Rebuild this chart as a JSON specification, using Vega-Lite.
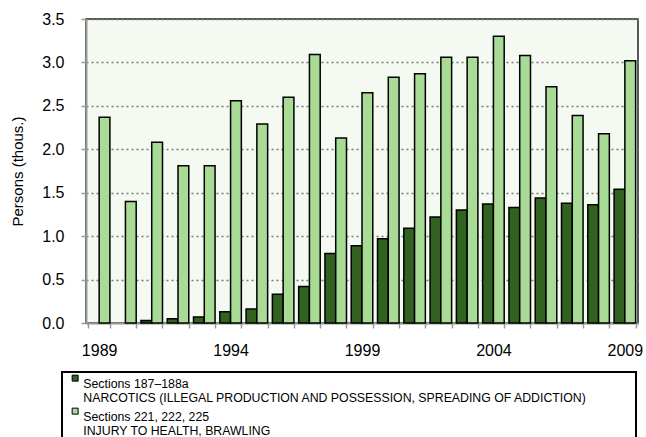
{
  "$schema": "https://vega.github.io/schema/vega-lite/v6.json",
  "width": 552,
  "height": 304,
  "autosize": {"type": "none"},
  "padding": {"left": 86, "top": 19, "right": 8, "bottom": 114},
  "background": "white",
  "data": {
    "values": [
      {"year": 1989, "series": "Sections 221, 222, 225|INJURY TO HEALTH, BRAWLING", "value": 2.37},
      {"year": 1990, "series": "Sections 221, 222, 225|INJURY TO HEALTH, BRAWLING", "value": 1.40},
      {"year": 1991, "series": "Sections 187–188a|NARCOTICS (ILLEGAL PRODUCTION AND POSSESSION, SPREADING OF ADDICTION)", "value": 0.03},
      {"year": 1991, "series": "Sections 221, 222, 225|INJURY TO HEALTH, BRAWLING", "value": 2.08},
      {"year": 1992, "series": "Sections 187–188a|NARCOTICS (ILLEGAL PRODUCTION AND POSSESSION, SPREADING OF ADDICTION)", "value": 0.05},
      {"year": 1992, "series": "Sections 221, 222, 225|INJURY TO HEALTH, BRAWLING", "value": 1.81},
      {"year": 1993, "series": "Sections 187–188a|NARCOTICS (ILLEGAL PRODUCTION AND POSSESSION, SPREADING OF ADDICTION)", "value": 0.07},
      {"year": 1993, "series": "Sections 221, 222, 225|INJURY TO HEALTH, BRAWLING", "value": 1.81},
      {"year": 1994, "series": "Sections 187–188a|NARCOTICS (ILLEGAL PRODUCTION AND POSSESSION, SPREADING OF ADDICTION)", "value": 0.13},
      {"year": 1994, "series": "Sections 221, 222, 225|INJURY TO HEALTH, BRAWLING", "value": 2.56},
      {"year": 1995, "series": "Sections 187–188a|NARCOTICS (ILLEGAL PRODUCTION AND POSSESSION, SPREADING OF ADDICTION)", "value": 0.16},
      {"year": 1995, "series": "Sections 221, 222, 225|INJURY TO HEALTH, BRAWLING", "value": 2.29},
      {"year": 1996, "series": "Sections 187–188a|NARCOTICS (ILLEGAL PRODUCTION AND POSSESSION, SPREADING OF ADDICTION)", "value": 0.33},
      {"year": 1996, "series": "Sections 221, 222, 225|INJURY TO HEALTH, BRAWLING", "value": 2.60},
      {"year": 1997, "series": "Sections 187–188a|NARCOTICS (ILLEGAL PRODUCTION AND POSSESSION, SPREADING OF ADDICTION)", "value": 0.42},
      {"year": 1997, "series": "Sections 221, 222, 225|INJURY TO HEALTH, BRAWLING", "value": 3.09},
      {"year": 1998, "series": "Sections 187–188a|NARCOTICS (ILLEGAL PRODUCTION AND POSSESSION, SPREADING OF ADDICTION)", "value": 0.80},
      {"year": 1998, "series": "Sections 221, 222, 225|INJURY TO HEALTH, BRAWLING", "value": 2.13},
      {"year": 1999, "series": "Sections 187–188a|NARCOTICS (ILLEGAL PRODUCTION AND POSSESSION, SPREADING OF ADDICTION)", "value": 0.89},
      {"year": 1999, "series": "Sections 221, 222, 225|INJURY TO HEALTH, BRAWLING", "value": 2.65},
      {"year": 2000, "series": "Sections 187–188a|NARCOTICS (ILLEGAL PRODUCTION AND POSSESSION, SPREADING OF ADDICTION)", "value": 0.97},
      {"year": 2000, "series": "Sections 221, 222, 225|INJURY TO HEALTH, BRAWLING", "value": 2.83},
      {"year": 2001, "series": "Sections 187–188a|NARCOTICS (ILLEGAL PRODUCTION AND POSSESSION, SPREADING OF ADDICTION)", "value": 1.09},
      {"year": 2001, "series": "Sections 221, 222, 225|INJURY TO HEALTH, BRAWLING", "value": 2.87},
      {"year": 2002, "series": "Sections 187–188a|NARCOTICS (ILLEGAL PRODUCTION AND POSSESSION, SPREADING OF ADDICTION)", "value": 1.22},
      {"year": 2002, "series": "Sections 221, 222, 225|INJURY TO HEALTH, BRAWLING", "value": 3.06},
      {"year": 2003, "series": "Sections 187–188a|NARCOTICS (ILLEGAL PRODUCTION AND POSSESSION, SPREADING OF ADDICTION)", "value": 1.30},
      {"year": 2003, "series": "Sections 221, 222, 225|INJURY TO HEALTH, BRAWLING", "value": 3.06},
      {"year": 2004, "series": "Sections 187–188a|NARCOTICS (ILLEGAL PRODUCTION AND POSSESSION, SPREADING OF ADDICTION)", "value": 1.37},
      {"year": 2004, "series": "Sections 221, 222, 225|INJURY TO HEALTH, BRAWLING", "value": 3.30},
      {"year": 2005, "series": "Sections 187–188a|NARCOTICS (ILLEGAL PRODUCTION AND POSSESSION, SPREADING OF ADDICTION)", "value": 1.33},
      {"year": 2005, "series": "Sections 221, 222, 225|INJURY TO HEALTH, BRAWLING", "value": 3.08},
      {"year": 2006, "series": "Sections 187–188a|NARCOTICS (ILLEGAL PRODUCTION AND POSSESSION, SPREADING OF ADDICTION)", "value": 1.44},
      {"year": 2006, "series": "Sections 221, 222, 225|INJURY TO HEALTH, BRAWLING", "value": 2.72},
      {"year": 2007, "series": "Sections 187–188a|NARCOTICS (ILLEGAL PRODUCTION AND POSSESSION, SPREADING OF ADDICTION)", "value": 1.38},
      {"year": 2007, "series": "Sections 221, 222, 225|INJURY TO HEALTH, BRAWLING", "value": 2.39},
      {"year": 2008, "series": "Sections 187–188a|NARCOTICS (ILLEGAL PRODUCTION AND POSSESSION, SPREADING OF ADDICTION)", "value": 1.36},
      {"year": 2008, "series": "Sections 221, 222, 225|INJURY TO HEALTH, BRAWLING", "value": 2.18},
      {"year": 2009, "series": "Sections 187–188a|NARCOTICS (ILLEGAL PRODUCTION AND POSSESSION, SPREADING OF ADDICTION)", "value": 1.54},
      {"year": 2009, "series": "Sections 221, 222, 225|INJURY TO HEALTH, BRAWLING", "value": 3.02}
    ]
  },
  "mark": {"type": "bar", "stroke": "black", "strokeWidth": 1.5},
  "encoding": {
    "x": {
      "field": "year",
      "type": "ordinal",
      "scale": {"paddingInner": 0.18, "paddingOuter": 0.09},
      "axis": {
        "title": null,
        "labelAngle": 0,
        "labelOverlap": false,
        "labelExpr": "(datum.value - 1989) % 5 === 0 ? datum.label : ''",
        "tickBand": "extent",
        "tickSize": 5,
        "labelPadding": 14,
        "grid": false
      }
    },
    "xOffset": {
      "field": "series",
      "type": "nominal",
      "scale": {"paddingInner": 0, "paddingOuter": 0}
    },
    "y": {
      "field": "value",
      "type": "quantitative",
      "scale": {"domain": [0, 3.5], "nice": false},
      "axis": {
        "title": "Persons (thous.)",
        "values": [0, 0.5, 1, 1.5, 2, 2.5, 3, 3.5],
        "format": ".1f",
        "tickSize": 5,
        "labelPadding": 17,
        "titlePadding": 16,
        "titleFontSize": 15,
        "titleFontWeight": "normal",
        "titleFont": "Liberation Sans",
        "titleColor": "black",
        "grid": true,
        "gridColor": "#7a7a7a",
        "gridDash": [2, 3],
        "gridWidth": 1.5
      }
    },
    "color": {
      "field": "series",
      "type": "nominal",
      "scale": {"range": ["#31621f", "#a8dc96"]},
      "legend": {
        "title": null,
        "orient": "none",
        "legendX": -24,
        "legendY": 353,
        "direction": "vertical",
        "labelExpr": "[split(datum.label, '|')[0], pad(split(datum.label, '|')[1], 83, '\u00a0') + '\u200b']",
        "labelFont": "Liberation Sans",
        "labelFontSize": 12.3,
        "labelColor": "black",
        "labelLimit": 800,
        "labelBaseline": "top",
        "labelOffset": 2,
        "symbolType": "square",
        "symbolSize": 36,
        "symbolStrokeColor": "black",
        "symbolStrokeWidth": 1,
        "symbolOffset": 7,
        "rowPadding": -4,
        "padding": 0,
        "strokeColor": "black",
        "fillColor": "white"
      }
    }
  },
  "config": {
    "font": "Liberation Sans",
    "view": {"fill": "#f4f9f1", "stroke": "#222222", "strokeWidth": 1.5},
    "legend": {"strokeWidth": 2},
    "axis": {
      "labelFont": "Liberation Sans",
      "labelFontSize": 16,
      "labelColor": "black",
      "domainColor": "#999999",
      "domainWidth": 2,
      "tickColor": "#999999",
      "tickWidth": 1.5
    }
  }
}
